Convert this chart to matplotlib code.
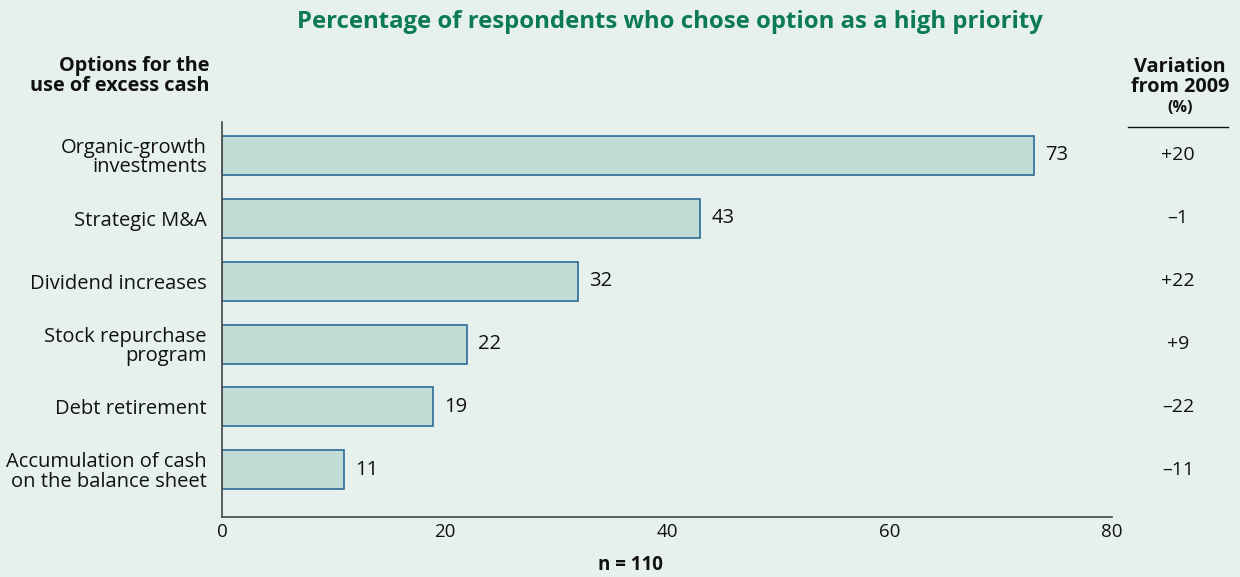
import matplotlib
matplotlib.use("Agg")
import matplotlib.pyplot as plt

plt.rcParams['font.family'] = ['Open Sans', 'DejaVu Sans']

categories = [
    "Organic-growth\ninvestments",
    "Strategic M&A",
    "Dividend increases",
    "Stock repurchase\nprogram",
    "Debt retirement",
    "Accumulation of cash\non the balance sheet",
]
values = [73, 43, 32, 22, 19, 11]
variation = ["+20", "\u20131", "+22", "+9", "\u201322", "\u201311"]
xticks = [0, 20, 40, 60, 80]

bg = "#E6F0EC"
bar_fill = "#C2DDD6"
bar_edge = "#2A6B99"
green = "#0B7A55"
txt = "#111111"
FS = 14.5

fig = plt.figure(figsize=(12.4, 5.77), dpi=100, facecolor=bg)
ax = fig.add_axes([222/1240, 1-517/577, (1112-222)/1240, (517-122)/577])
ax.set_facecolor(bg)

n = len(categories)
ypos = list(range(n - 1, -1, -1))
ax.barh(ypos, values, height=0.62, color=bar_fill, edgecolor=bar_edge, linewidth=1.2)
ax.set_xlim(0, 80)
ax.set_ylim(-0.75, n - 1 + 0.53)
ax.set_xticks(xticks)
ax.set_xticklabels([str(t) for t in xticks], fontsize=13.5, color=txt)
ax.tick_params(axis='x', length=0, pad=4)
ax.set_yticks(ypos)
ax.set_yticklabels(categories, fontsize=FS, color=txt, linespacing=0.95)
ax.tick_params(axis='y', length=0, pad=11)
for s in ['top', 'right']:
    ax.spines[s].set_visible(False)
for s in ['left', 'bottom']:
    ax.spines[s].set_color("#444444")
    ax.spines[s].set_linewidth(1.2)

for y, v in zip(ypos, values):
    ax.annotate(str(v), (v, y), xytext=(11, 0), textcoords='offset pixels',
                va='center', ha='left', fontsize=FS, color=txt)

# variation column
for y, var in zip(ypos, variation):
    ax.annotate(var, (0, y), xycoords=('figure pixels', 'data'),
                xytext=(1178, 0), textcoords=('figure pixels', 'offset pixels'),
                ha='center', va='center', fontsize=14, color=txt)

H = 577
def fy(p):
    return 1 - p / H

fig.text(670/1240, fy(22), "Percentage of respondents who chose option as a high priority",
         ha='center', va='center', fontsize=17.2, fontweight='bold', color=green)
fig.text(210/1240, fy(76), "Options for the\nuse of excess cash", ha='right', va='center',
         fontsize=14.3, fontweight='bold', color=txt, linespacing=0.95, multialignment='right')
fig.text(1180/1240, fy(77), "Variation\nfrom 2009", ha='center', va='center',
         fontsize=14.3, fontweight='bold', color=txt, linespacing=0.95)
fig.text(1180/1240, fy(108), "(%)", ha='center', va='center',
         fontsize=11.5, fontweight='bold', color=txt)
fig.add_artist(plt.Line2D([1128/1240, 1228/1240], [fy(127), fy(127)], color=txt, linewidth=1.0))
fig.text(630/1240, fy(565), "n = 110", ha='center', va='center',
         fontsize=13.5, fontweight='bold', color=txt)

fig.savefig("out.png", dpi=100, facecolor=bg)
